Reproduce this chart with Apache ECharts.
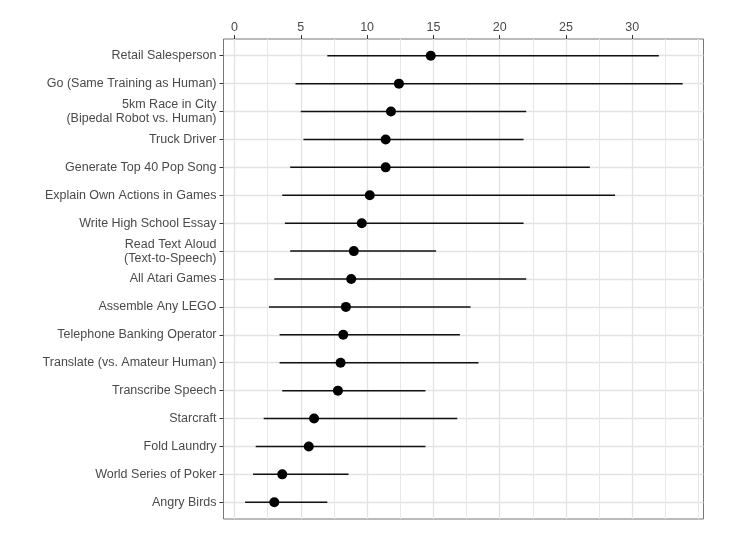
<!DOCTYPE html>
<html>
<head>
<meta charset="utf-8">
<script src="https://cdn.jsdelivr.net/npm/echarts@6/dist/echarts.min.js"></script>
<style>
html,body{margin:0;padding:0;background:#fff;}
#chart{width:744px;height:533px;}
</style>
</head>
<body>
<div id="chart"></div>
<script>
const categories = [
  "Retail Salesperson",
  "Go (Same Training as Human)",
  "5km Race in City\n(Bipedal Robot vs. Human)",
  "Truck Driver",
  "Generate Top 40 Pop Song",
  "Explain Own Actions in Games",
  "Write High School Essay",
  "Read Text Aloud\n(Text-to-Speech)",
  "All Atari Games",
  "Assemble Any LEGO",
  "Telephone Banking Operator",
  "Translate (vs. Amateur Human)",
  "Transcribe Speech",
  "Starcraft",
  "Fold Laundry",
  "World Series of Poker",
  "Angry Birds"
];
const medianYears = [14.8, 12.4, 11.8, 11.4, 11.4, 10.2, 9.6, 9.0, 8.8, 8.4, 8.2, 8.0, 7.8, 6.0, 5.6, 3.6, 3.0];
const lowYears    = [7.0, 4.6, 5.0, 5.2, 4.2, 3.6, 3.8, 4.2, 3.0, 2.6, 3.4, 3.4, 3.6, 2.2, 1.6, 1.4, 0.8];
const highYears   = [32.0, 33.8, 22.0, 21.8, 26.8, 28.7, 21.8, 15.2, 22.0, 17.8, 17.0, 18.4, 14.4, 16.8, 14.4, 8.6, 7.0];
const xTickValues = [0, 5, 10, 15, 20, 25, 30];
const xMinorGrid  = [2.5, 7.5, 12.5, 17.5, 22.5, 27.5, 32.5, 35];

const rowIdx = categories.map((c, i) => i);
const textColor = '#4a4a4a';
const fontFamily = '"Liberation Sans", Arial, Helvetica, sans-serif';

const chart = echarts.init(document.getElementById('chart'), null, {renderer: 'canvas'});
chart.setOption({
  animation: false,
  backgroundColor: '#ffffff',
  grid: {
    left: 223.5, right: 40.5, top: 39, bottom: 14,
    show: true, borderColor: '#777', borderWidth: 1, containLabel: false
  },
  xAxis: [
    {
      type: 'value', position: 'top', min: -0.83, max: 35.37,
      axisLine: {show: false, onZero: false},
      axisTick: {show: true, length: 4, customValues: xTickValues, lineStyle: {color: '#333', width: 1}},
      axisLabel: {show: true, customValues: xTickValues, margin: 5, color: textColor, fontSize: 12.5, fontFamily: fontFamily},
      splitLine: {show: true, lineStyle: {color: '#e3e3e3', width: 1.3}}
    },
    {
      type: 'value', position: 'top', min: -0.83, max: 35.37,
      axisLine: {show: false, onZero: false},
      axisTick: {show: false, customValues: xMinorGrid},
      axisLabel: {show: false, customValues: xMinorGrid},
      splitLine: {show: true, lineStyle: {color: '#e8e8e8', width: 1}}
    }
  ],
  yAxis: {
    type: 'value', inverse: true, min: -0.6, max: categories.length - 1 + 0.6,
    axisLine: {show: false, onZero: false},
    axisTick: {show: true, length: 4, customValues: rowIdx, lineStyle: {color: '#333', width: 1}},
    axisLabel: {
      show: true, customValues: rowIdx, margin: 7, color: textColor, fontSize: 12.5,
      fontFamily: fontFamily, lineHeight: 14, align: 'right',
      formatter: v => categories[Math.round(v)]
    },
    splitLine: {show: true, lineStyle: {color: '#e3e3e3', width: 1.3}}
  },
  series: [
    {
      type: 'custom',
      xAxisIndex: 0,
      data: categories.map((c, i) => [i, lowYears[i], highYears[i]]),
      encode: {x: [1, 2], y: 0},
      renderItem: function (params, api) {
        const i = api.value(0);
        const p1 = api.coord([api.value(1), i]);
        const p2 = api.coord([api.value(2), i]);
        return {
          type: 'line',
          shape: {x1: p1[0], y1: p1[1], x2: p2[0], y2: p2[1]},
          style: {stroke: '#111111', lineWidth: 1.5}
        };
      },
      z: 2
    },
    {
      type: 'scatter',
      xAxisIndex: 0,
      data: categories.map((c, i) => [medianYears[i], i]),
      symbol: 'circle',
      symbolSize: 10,
      itemStyle: {color: '#000000', opacity: 1},
      z: 3
    }
  ]
});
</script>
</body>
</html>
